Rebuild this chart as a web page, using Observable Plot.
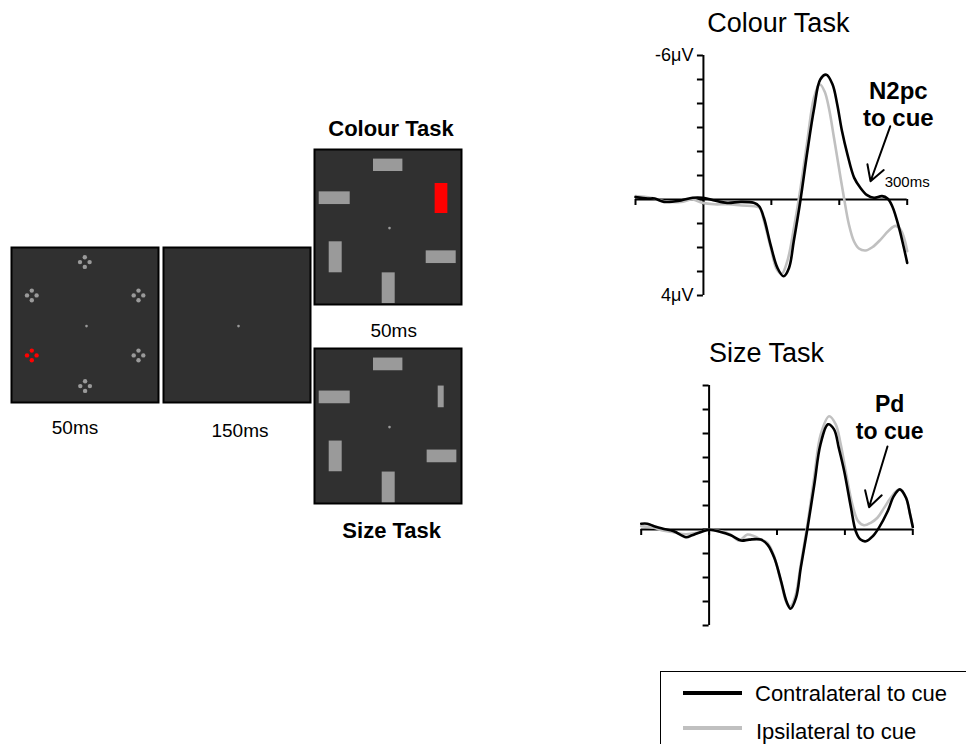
<!DOCTYPE html>
<html><head><meta charset="utf-8">
<script src="https://cdn.jsdelivr.net/npm/d3@7"></script>
<script src="https://cdn.jsdelivr.net/npm/@observablehq/plot@0.6"></script>
<style>
html,body{margin:0;padding:0;background:#fff;overflow:hidden}
#root{position:relative;width:966px;height:744px;overflow:hidden;font-family:"Liberation Sans",Arial,Helvetica,sans-serif;color:#000}
.lbl{position:absolute;white-space:nowrap;line-height:1}
</style></head><body><div id="root"></div>
<script>
// ---------------- DATA ----------------
// ERP time axis ticks (ms) and amplitude ticks (µV)
const xTicks = [-100, 0, 100, 200, 300];
const yTicks = [-6, -5, -4, -3, -2, -1, 0, 1, 2, 3, 4];
const yTickLabels = [{v: -6, label: "-6μV"}, {v: 4, label: "4μV"}];
const timeLabel = [{t: 300, v: 0, label: "300ms"}];

// Colour task waveforms
const colourContraTime = [-100,-82,-72,-58,-33,-16,-1,16,35,55,74,82,89,99,109,118,126,133,143,153,163,172,181,190,197,204,212,222,231,241,251,263,271,278,288,295,300];
const colourContra     = [-0.1,-0.04,-0.04,0.1,0.04,-0.07,-0.07,0.04,0.14,0.1,0.14,0.28,0.76,1.9,2.85,3.2,2.85,1.74,0,-2.0,-3.8,-5.0,-5.2,-4.8,-3.96,-2.85,-1.88,-0.9,-0.49,-0.18,-0.07,-0.14,-0.04,0.28,1.18,2.0,2.64];
const colourIpsiTime   = [-100,-77.5,-57.8,-33.3,-16.2,-1.5,15.7,36.8,56.4,75.5,82.8,89.2,99,107.8,115.2,123.5,133.3,143.1,152.9,162.7,171.1,178.4,184.8,192.2,199.5,206.9,214.2,221.6,228.9,238.7,248.5,260.8,273,282.8,290.2,296.1,300];
const colourIpsi       = [-0.14,-0.07,0.07,0.1,0,0.14,0.2,0.2,0.25,0.28,0.35,0.9,2.0,2.9,3.1,2.57,1.18,-0.5,-2.43,-4.24,-4.8,-4.5,-3.8,-2.57,-1.32,-0.07,1.04,1.74,2.04,2.125,1.99,1.67,1.29,1.1,1.25,1.67,2.15];

// Size task waveforms
const sizeContraTime = [-100,-91,-81,-69,-52,-34,-25,-12,0,17,32,47,59,76,86,96,106,114,120,128,135,145,155,164,175,184,191,199,209,216,223,231,241,250,263,272,281,290,296,300];
const sizeContra     = [-0.24,-0.24,-0.14,-0.04,0.07,0.32,0.24,0.1,0.01,0.1,0.24,0.46,0.42,0.42,0.63,1.18,2.15,3.0,3.3,2.85,1.6,-0.07,-1.88,-3.54,-4.38,-4.17,-3.4,-2.43,-0.9,0.07,0.42,0.49,0.28,-0.07,-0.76,-1.39,-1.67,-1.32,-0.63,-0.1];
const sizeIpsiTime   = [-100,-81,-68.7,-51.5,-34.4,-17.2,0,17.2,31.9,44.2,56.4,66.3,76.1,85.9,95.7,105.5,115.3,120.2,127.6,135,144.8,154.6,164.4,176.7,186.5,193.9,201.2,211,219.4,228.2,238,247.9,257.7,267.5,279.8,289.6,296,300];
const sizeIpsi       = [-0.14,-0.07,0.04,0.12,0.2,0.14,0.01,0.07,0.21,0.46,0.21,0.28,0.42,0.56,1.11,2.15,3.125,3.2,2.71,1.46,-0.21,-2.15,-3.96,-4.72,-4.38,-3.54,-2.43,-1.04,-0.35,-0.18,-0.28,-0.49,-0.9,-1.32,-1.67,-1.35,-0.63,-0.1];

// Annotations (data coordinates: ms, µV)
const colourNote  = [{t: 287, v: -3.05, label: "N2pc\nto cue"}];
const colourArrow = [{t1: 275, v1: -3.05, t2: 246, v2: -0.76}];
const sizeNote    = [{t: 266, v: -3.78, label: "Pd\nto cue"}];
const sizeArrow   = [{t1: 262.7, v1: -3.46, t2: 235.6, v2: -0.93}];

// Stimulus displays (units relative to fixation)
const cueClusters = [
  {x: -1.7, y: -64, color: "grey"}, {x: -54.7, y: -30.7, color: "grey"}, {x: 52, y: -30.7, color: "grey"},
  {x: -54.7, y: 29.3, color: "red"}, {x: 52, y: 29.3, color: "grey"}, {x: -1.4, y: 60, color: "grey"}
];
const clusterDotOffsets = [[0, -4.8], [4.8, 0], [0, 4.8], [-4.8, 0]];
const colourSearch = [
  {x: -1.3, y: -62.8, w: 29.4, h: 12.4, color: "grey"},
  {x: -54.8, y: -29.9, w: 31, h: 12.7, color: "grey"},
  {x: 52, y: -29.6, w: 12.7, h: 30, color: "red"},
  {x: -53.8, y: 29.2, w: 13, h: 31, color: "grey"},
  {x: 51.7, y: 29.1, w: 30, h: 12.7, color: "grey"},
  {x: -0.8, y: 60.1, w: 13, h: 30.7, color: "grey"}
];
const sizeSearch = [
  {x: -1.3, y: -62.7, w: 29.4, h: 12.7, color: "grey"},
  {x: -54.8, y: -29.7, w: 31, h: 12.7, color: "grey"},
  {x: 51.7, y: -30.2, w: 6, h: 21.7, color: "grey"},
  {x: -53.8, y: 29.3, w: 13, h: 30.7, color: "grey"},
  {x: 52.5, y: 29.3, w: 29.7, h: 12.7, color: "grey"},
  {x: -0.8, y: 60.3, w: 13, h: 30.7, color: "grey"}
];
const fixation = [{x: 0, y: 0}];

// ---------------- RENDER ----------------
const FONT = '"Liberation Sans", Arial, Helvetica, sans-serif';
const STIM = {grey: "#9a9a9a", red: "#ff0000"};
const GREY_LINE = "#c0c0c0";
const root = document.getElementById("root");

function put(el, left, top) {
  el.style.position = "absolute"; el.style.left = left + "px"; el.style.top = top + "px";
  root.appendChild(el);
}
function label(text, x, baseline, size, bold, anchor = "middle") {
  const d = document.createElement("div");
  d.className = "lbl"; d.textContent = text;
  d.style.fontSize = size + "px"; d.style.fontWeight = bold ? "bold" : "normal";
  d.style.top = (baseline - 0.8465 * size) + "px";
  d.style.left = x + "px";
  if (anchor === "middle") d.style.transform = "translateX(-50%)";
  root.appendChild(d);
}

function panel(left, top, {rects = [], dots = []}) {
  const chart = Plot.plot({
    width: 149, height: 157, margin: 1,
    x: {domain: [-75, 72], axis: null},
    y: {domain: [-78.6, 76.4], reverse: true, axis: null},
    color: {type: "identity"},
    style: {background: "transparent", overflow: "visible"},
    marks: [
      Plot.frame({fill: "#303030", stroke: "#000", strokeWidth: 2}),
      Plot.rect(rects, {x1: d => d.x - d.w / 2, x2: d => d.x + d.w / 2, y1: d => d.y - d.h / 2, y2: d => d.y + d.h / 2, fill: d => STIM[d.color]}),
      Plot.dot(dots, {x: "x", y: "y", r: 2.2, fill: d => STIM[d.color], stroke: null}),
      Plot.dot(fixation, {x: "x", y: "y", r: 1.3, fill: STIM.grey, stroke: null})
    ]
  });
  put(chart, left, top);
}

const cueDots = cueClusters.flatMap(c => clusterDotOffsets.map(([dx, dy]) => ({x: c.x + dx, y: c.y + dy, color: c.color})));
panel(10, 246, {dots: cueDots});
panel(162, 246, {});
panel(313, 148, {rects: colourSearch});
panel(313, 347, {rects: sizeSearch});

label("50ms", 75, 434.3, 19, false);
label("150ms", 240, 436.7, 19, false);
label("Colour Task", 391, 136.7, 22, true);
label("50ms", 393.7, 336.7, 19, false);
label("Size Task", 391.7, 538.3, 22, true);

function erpChart(cfg) {
  const W = 366, H = 310, mT = 55, mB = 15;
  const base = {
    width: W, height: H, marginLeft: cfg.mL, marginRight: cfg.mR, marginTop: mT, marginBottom: mB,
    x: {domain: [-100, 300]}, y: {domain: [4, -6]},
    style: {fontFamily: FONT, background: "transparent", color: "#000", overflow: "visible"}
  };
  const probe = Plot.plot({...base, marks: [Plot.ruleX([0]), Plot.ruleY([0])]});
  const x0 = probe.scale("x").apply(0), y0 = probe.scale("y").apply(0);
  const contra = cfg.tc.map((t, i) => ({t, v: cfg.vc[i]}));
  const ipsi = cfg.ti.map((t, i) => ({t, v: cfg.vi[i]}));
  const marks = [
    Plot.text([cfg.title], {frameAnchor: "top", dx: cfg.titleDx, dy: -23.3, lineAnchor: "bottom", fontSize: 27, text: d => d}),
    Plot.ruleY([0], {x1: -100, x2: 300, strokeWidth: 2, stroke: "#000"}),
    Plot.ruleX([0], {y1: -6, y2: 4, strokeWidth: 2, stroke: "#000"}),
    Plot.axisX({ticks: xTicks, anchor: "bottom", tickSize: 6, strokeWidth: 2, tickFormat: () => "", label: null, dy: y0 - (H - mB)}),
    Plot.axisY({ticks: yTicks, anchor: "left", tickSize: 6, strokeWidth: 2, tickFormat: () => "", label: null, dx: x0 - cfg.mL}),
    Plot.line(ipsi, {x: "t", y: "v", stroke: GREY_LINE, strokeWidth: 2.6, curve: "catmull-rom"}),
    Plot.line(contra, {x: "t", y: "v", stroke: "#000", strokeWidth: 2.6, curve: "catmull-rom"}),
    Plot.text(cfg.note, {x: "t", y: "v", text: "label", lineAnchor: "bottom", fontWeight: "bold", fontSize: cfg.noteSize, lineHeight: cfg.noteLH}),
    Plot.arrow(cfg.arrow, {x1: "t1", y1: "v1", x2: "t2", y2: "v2", stroke: "#000", strokeWidth: 2, headLength: 13})
  ];
  if (cfg.showLabels) {
    marks.push(Plot.text(yTickLabels, {x: 0, y: "v", text: "label", dx: -10, textAnchor: "end", fontSize: 18}));
    marks.push(Plot.text(timeLabel, {x: "t", y: "v", text: "label", dy: -12.3, lineAnchor: "bottom", fontSize: 15}));
  }
  return Plot.plot({...base, marks});
}

put(erpChart({title: "Colour Task", titleDx: 7, mL: 35, mR: 59.3, tc: colourContraTime, vc: colourContra, ti: colourIpsiTime, vi: colourIpsi,
  note: colourNote, arrow: colourArrow, noteSize: 24, noteLH: 1.14, showLabels: true}), 600, 0);
put(erpChart({title: "Size Task", titleDx: -10.5, mL: 40.7, mR: 53.7, tc: sizeContraTime, vc: sizeContra, ti: sizeIpsiTime, vi: sizeIpsi,
  note: sizeNote, arrow: sizeArrow, noteSize: 23, noteLH: 1.16, showLabels: false}), 600, 330);

// Legend
const box = document.createElement("div");
box.style.cssText = "width:340px;height:110px;border:1.5px solid #000;box-sizing:border-box;background:transparent";
put(box, 660, 671);
const sw1 = document.createElement("div"); sw1.style.cssText = "width:59px;height:4px;background:#000"; put(sw1, 683, 691.3);
const sw2 = document.createElement("div"); sw2.style.cssText = "width:59px;height:4px;background:" + GREY_LINE; put(sw2, 683, 726.3);
label("Contralateral to cue", 755, 701.7, 22, false, "start");
label("Ipsilateral to cue", 756, 740, 22, false, "start");
</script>
</body></html>
